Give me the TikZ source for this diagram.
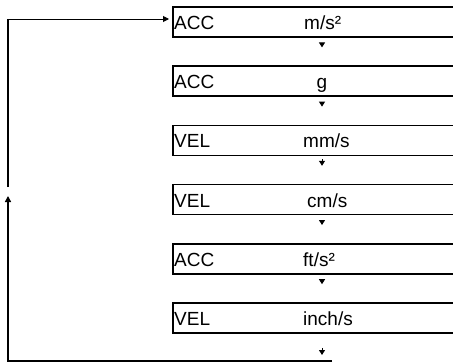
\documentclass[tikz,border=0pt]{standalone}
\usepackage{fontspec}
\setmainfont{Liberation Sans}
\usetikzlibrary{arrows.meta,positioning}

\begin{document}
\begin{tikzpicture}[
    x=1pt, y=-1pt,
    box/.style={rectangle, draw, line width=1.6pt, minimum width=300pt, minimum height=30pt, anchor=west, inner sep=0pt},
    tag/.style={font=\fontsize{19}{22}\selectfont, inner sep=0pt, anchor=base west},
    unit/.style={font=\fontsize{19}{22}\selectfont, inner sep=0pt, anchor=base west},
    flow/.style={line width=1pt, -{Triangle[length=5pt, width=6pt]}, shorten <=6pt, shorten >=18pt},
    stem/.style={shorten <=3pt},
    loopline/.style={line width=1.4pt}
]
    \useasboundingbox (0,0) rectangle (453,362);
    \clip (0,0) rectangle (453,362);
    \coordinate (ax) at (322,0);

    % mode boxes
    \node[box] (b1) at (172,22) {};
    \node[box] (b2) at (172,81.2) {};
    \node[box] (b3) at (172,140.4) {};
    \node[box] (b4) at (172,199.6) {};
    \node[box] (b5) at (172,258.8) {};
    \node[box] (b6) at (172,318) {};

    \node[tag] at ([xshift=2pt, yshift=-7.5pt]b1.west) {ACC};
    \node[tag] at ([xshift=2pt, yshift=-7.5pt]b2.west) {ACC};
    \node[tag] at ([xshift=2pt, yshift=-7.5pt]b3.west) {VEL};
    \node[tag] at ([xshift=2pt, yshift=-7.5pt]b4.west) {VEL};
    \node[tag] at ([xshift=2pt, yshift=-7.5pt]b5.west) {ACC};
    \node[tag] at ([xshift=2pt, yshift=-7.5pt]b6.west) {VEL};

    \node[unit] at ([xshift=132pt, yshift=-7.5pt]b1.west) {m/s²};
    \node[unit, anchor=base] at ([xshift=150pt, yshift=-7.5pt]b2.west) {g};
    \node[unit] at ([xshift=131pt, yshift=-7.5pt]b3.west) {mm/s};
    \node[unit] at ([xshift=135pt, yshift=-7.5pt]b4.west) {cm/s};
    \node[unit] at ([xshift=131pt, yshift=-7.5pt]b5.west) {ft/s²};
    \node[unit] at ([xshift=131pt, yshift=-7.5pt]b6.west) {inch/s};

    % step arrows
    \draw[flow] (b1.south -| ax) -- (b2.north -| ax);
    \draw[flow] (b2.south -| ax) -- (b3.north -| ax);
    \draw[flow, stem] (b3.south -| ax) -- (b4.north -| ax);
    \draw[flow] (b4.south -| ax) -- (b5.north -| ax);
    \draw[flow] (b5.south -| ax) -- (b6.north -| ax);

    % return loop
    \coordinate (loopR) at (332,361);
    \coordinate (loopL) at (8,361);
    \coordinate (gapB) at (8,196);
    \coordinate (gapT) at (8,187);
    \coordinate (loopT) at (8,19);
    \draw[flow, shorten <=14pt, shorten >=6pt] (b6.south -| ax) -- (loopR -| ax);
    \draw[loopline, -{Triangle[length=6pt, width=6pt]}] (loopR) -- (loopL) -- (gapB);
    \draw[loopline] (gapT) -- (loopT);
    \draw[line width=1pt, -{Triangle[length=6pt, width=6pt]}, shorten >=3pt] (loopT) -- (loopT -| b1.west);
\end{tikzpicture}
\end{document}
